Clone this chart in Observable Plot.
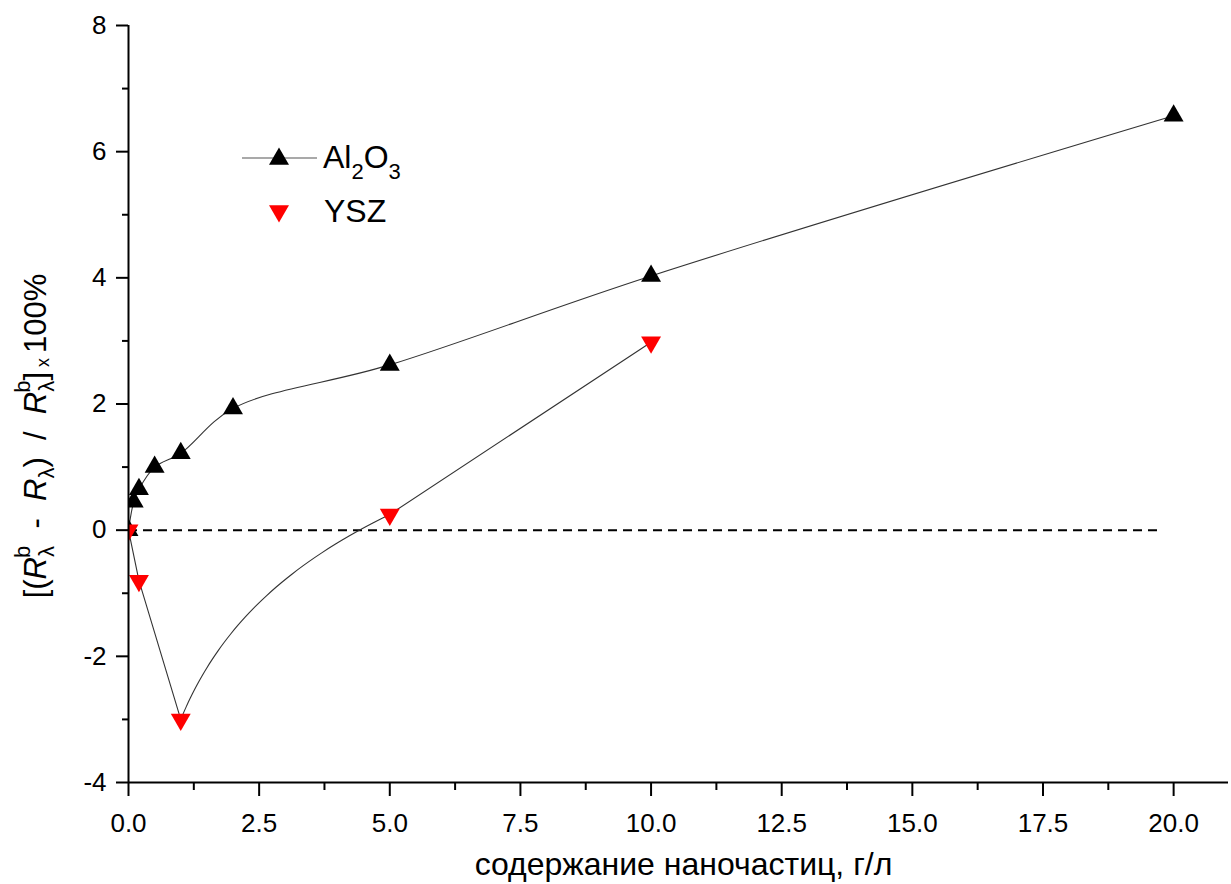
<!DOCTYPE html>
<html><head><meta charset="utf-8">
<script src="https://cdn.jsdelivr.net/npm/d3@7"></script>
<script src="https://cdn.jsdelivr.net/npm/@observablehq/plot@0.6"></script>
<style>
html,body{margin:0;padding:0;background:#fff;}
#wrap{position:relative;width:1231px;height:884px;}
</style></head><body><div id="wrap"></div>
<script>
// ---- data ----
const al2o3X = [0, 0.1, 0.2, 0.5, 1, 2, 5, 10, 20];
const al2o3Y = [0, 0.45, 0.65, 1.0, 1.22, 1.93, 2.62, 4.03, 6.57];
const yszX = [0, 0.2, 1, 5, 10];
const yszY = [0, -0.8, -3.0, 0.25, 2.98];
const xMajorTicks = [0, 2.5, 5, 7.5, 10, 12.5, 15, 17.5, 20];
const xMinorTicks = [1.25, 3.75, 6.25, 8.75, 11.25, 13.75, 16.25, 18.75];
const yMajorTicks = [-4, -2, 0, 2, 4, 6, 8];
const yMinorTicks = [-3, -1, 1, 3, 5, 7];
const xDomain = [0, 21.05];
const yDomain = [-4, 8];
const zeroLine = [{y: 0, x1: 0, x2: 19.75}];
const xTitle = "содержание наночастиц, г/л";
const legendNames = ["Al", "2", "O", "3", "YSZ"];

// ---- layout ----
const W = 1231, H = 884;
const mL = 128, mR = 3, mT = 25, mB = 102;
const font = "'Liberation Sans', Arial, sans-serif";

const al = al2o3X.map((x, i) => ({x, y: al2o3Y[i]}));
const ys = yszX.map((x, i) => ({x, y: yszY[i]}));

// x-origin in pixels from the library's own scale
const xScale = Plot.scale({x: {domain: xDomain, range: [mL, W - mR]}});
const originPx = xScale.apply(0);

// curve: segments leaving a turning point are interpolated linearly in log(x - origin),
// all other segments straight (mimics the original's spline shape)
function turnCurve(context) {
  let pts = [];
  return {
    areaStart() {}, areaEnd() {},
    lineStart() { pts = []; },
    point(x, y) { pts.push([+x, +y]); },
    lineEnd() {
      pts.forEach(([x, y], i) => {
        if (i === 0) { context.moveTo(x, y); return; }
        const [x0, y0] = pts[i - 1];
        const prev = pts[i - 2];
        const turning = prev && Math.sign(y0 - prev[1]) !== Math.sign(y - y0);
        const a = x0 - originPx, b = x - originPx;
        if (!turning || a <= 0.5 || b <= 0.5) { context.lineTo(x, y); return; }
        const la = Math.log(a), lb = Math.log(b);
        const n = 48;
        for (let k = 1; k <= n; k++) {
          context.lineTo(originPx + Math.exp(la + (lb - la) * k / n), y0 + (y - y0) * k / n);
        }
      });
    }
  };
}

const chart = Plot.plot({
  width: W, height: H,
  marginLeft: mL, marginRight: mR, marginTop: mT, marginBottom: mB,
  style: {fontFamily: font, background: "#fff", color: "#000", overflow: "visible"},
  x: {domain: xDomain, label: null, axis: null},
  y: {domain: yDomain, label: null, axis: null},
  marks: [
    Plot.ruleY(zeroLine, {y: "y", x1: "x1", x2: "x2", stroke: "#000", strokeWidth: 2, strokeDasharray: "9,6"}),
    Plot.line(al, {x: "x", y: "y", curve: "catmull-rom", stroke: "#333", strokeWidth: 1.1, clip: true}),
    Plot.line(ys, {x: "x", y: "y", curve: turnCurve, stroke: "#333", strokeWidth: 1.1, clip: true}),
    Plot.dot(al, {x: "x", y: "y", symbol: "triangle", r: 7.4, fill: "#000", stroke: "none", clip: true}),
    Plot.dot(ys, {x: "x", y: "y", symbol: "triangle", rotate: 180, r: 7.4, fill: "#ff0000", stroke: "none", clip: true}),
    Plot.axisY(yMajorTicks, {anchor: "left", tickSize: 12, tickPadding: 10, fontSize: 26, tickFormat: d => String(d), strokeWidth: 2, label: null}),
    Plot.axisY(yMinorTicks, {anchor: "left", tickSize: 6, tickFormat: () => "", strokeWidth: 2, label: null}),
    Plot.axisX(xMajorTicks, {anchor: "bottom", tickSize: 14, tickPadding: 17, fontSize: 26, tickFormat: d => d.toFixed(1), strokeWidth: 2, label: null}),
    Plot.axisX(xMinorTicks, {anchor: "bottom", tickSize: 8, tickFormat: () => "", strokeWidth: 2, label: null}),
    Plot.ruleX([0], {stroke: "#000", strokeWidth: 2}),
    Plot.ruleY([-4], {stroke: "#000", strokeWidth: 2}),
    Plot.text([xTitle], {frameAnchor: "bottom", lineAnchor: "bottom", dy: 92, dx: 5, fontSize: 32, fill: "#000"})
  ]
});
document.getElementById("wrap").appendChild(chart);

const svg = d3.select(chart);

// ---- y axis title ----
const lab = svg.append("text")
  .attr("transform", "translate(46,436) rotate(-90)")
  .attr("text-anchor", "middle")
  .style("font-family", font).style("font-size", "31px").attr("fill", "#000");
function ts(text, opts = {}) {
  const t = lab.append("tspan").text(text);
  if (opts.dx != null) t.attr("dx", opts.dx);
  if (opts.dy != null) t.attr("dy", opts.dy);
  if (opts.size) t.style("font-size", opts.size + "px");
  if (opts.italic) t.style("font-style", "italic");
  return t;
}
ts("[(");
ts("R", {italic: true});
ts("λ", {size: 22, dy: 8});
ts("b", {size: 22, dx: -12, dy: -24});
ts("  -  ", {dy: 16});
ts("R", {italic: true});
ts("λ", {size: 22, dy: 8});
ts(")  /  ", {dy: -8});
ts("R", {italic: true});
ts("λ", {size: 22, dy: 8});
ts("b", {size: 22, dx: -12, dy: -24});
ts("]", {dy: 16});
ts(" x ", {size: 18, dy: 3});
ts("100%", {dy: -3});

// ---- legend ----
const lg = svg.append("g").style("font-family", font).attr("fill", "#000");
lg.append("line").attr("x1", 242).attr("x2", 317).attr("y1", 158).attr("y2", 158).attr("stroke", "#555").attr("stroke-width", 1.2);
lg.append("path").attr("d", d3.symbol(d3.symbolTriangle, 173)()).attr("transform", "translate(279,159)").attr("fill", "#000");
lg.append("path").attr("d", d3.symbol(d3.symbolTriangle, 173)()).attr("transform", "translate(279,211) rotate(180)").attr("fill", "#ff0000");
const t1 = lg.append("text").attr("x", 323).attr("y", 168).attr("text-anchor", "start").style("font-size", "32px");
t1.append("tspan").text(legendNames[0]);
t1.append("tspan").text(legendNames[1]).style("font-size", "22px").attr("dy", 11);
t1.append("tspan").text(legendNames[2]).attr("dy", -11);
t1.append("tspan").text(legendNames[3]).style("font-size", "22px").attr("dy", 11);
lg.append("text").attr("x", 324).attr("y", 222).attr("text-anchor", "start").style("font-size", "32px").text(legendNames[4]);
</script>
</body></html>
